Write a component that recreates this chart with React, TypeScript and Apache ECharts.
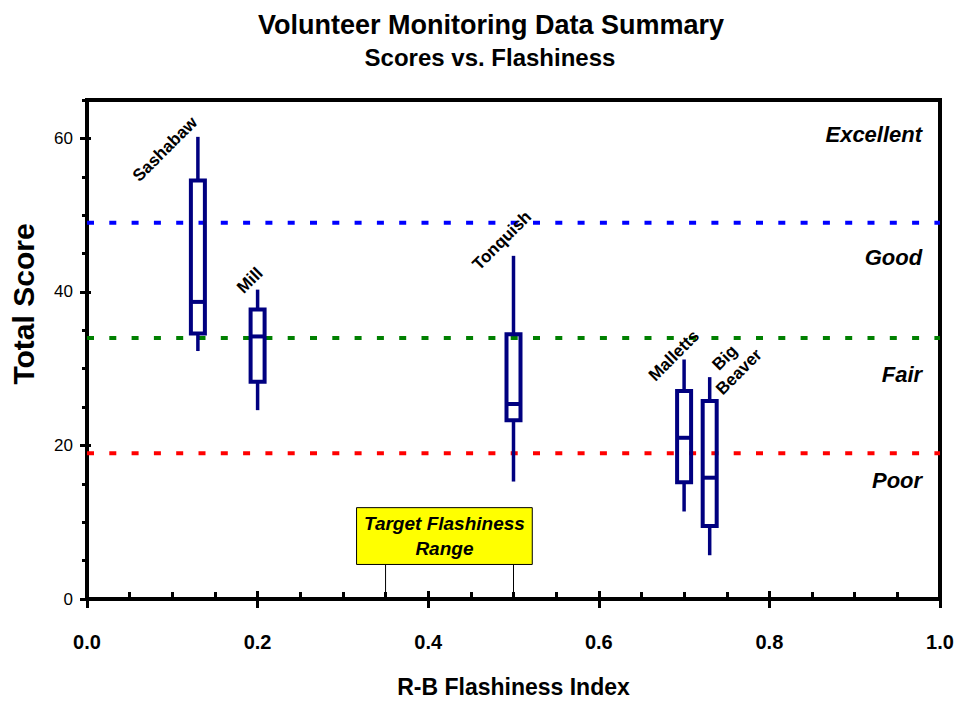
import React, { useEffect, useRef } from 'react';
import * as echarts from 'echarts';

// ---- data ----
const sites = ['Sashabaw', 'Mill', 'Tonquish', 'Malletts', 'Big\nBeaver'];
const flashiness = [0.13, 0.2, 0.5, 0.7, 0.73];
const whiskerLow = [32.3, 24.6, 15.3, 11.4, 5.7];
const q1 = [34.6, 28.3, 23.3, 15.2, 9.5];
const median = [38.7, 34.2, 25.4, 21.0, 15.8];
const q3 = [54.5, 37.7, 34.5, 27.1, 25.8];
const whiskerHigh = [60.2, 40.3, 44.7, 31.2, 28.9];
const labelX = [0.0914, 0.191, 0.4865, 0.688, 0.756];
const labelY = [58.6, 41.5, 46.7, 31.7, 30.5];

const thresholds = [49, 34, 19];
const thresholdColors = ['#0000ff', '#008000', '#ff0000'];

const ratingNames = ['Excellent', 'Good', 'Fair', 'Poor'];
const ratingX = 0.979;
const ratingY = [60.5, 44.5, 29.3, 15.4];

const targetRange = [0.35, 0.5];
const targetBoxX = [0.316, 0.522];
const targetBoxY = [4.5, 11.9];
const targetText = 'Target Flashiness\nRange';

const xMin = 0, xMax = 1, xMajor = 0.2, xMinor = 0.05;
const yMin = 0, yMax = 65, yMajor = 20, yMinor = 5;

const NAVY = '#000080';
const SANS = "'Liberation Sans', Arial, sans-serif";

export default function App() {
  const ref = useRef<HTMLDivElement>(null);
  useEffect(() => {
    if (!ref.current) return;
    const chart = echarts.init(ref.current, null, { renderer: 'svg' });

    const plainX = (extra: any) => ({
      type: 'value', min: xMin, max: xMax, position: 'bottom',
      axisLine: { show: false }, axisLabel: { show: false }, splitLine: { show: false },
      ...extra,
    });
    const plainY = (extra: any) => ({
      type: 'value', min: yMin, max: yMax, position: 'left',
      axisLine: { show: false }, axisLabel: { show: false }, splitLine: { show: false },
      ...extra,
    });

    const option: any = {
      animation: false,
      backgroundColor: '#fff',
      grid: { left: 87, right: 18, top: 100, bottom: 101, show: true, borderColor: '#000', borderWidth: 4, backgroundColor: 'transparent' },
      graphic: [
        { type: 'text', x: 491, y: 25, style: { text: 'Volunteer Monitoring Data Summary', fontSize: 27, fontWeight: 'bold', fontFamily: SANS, fill: '#000', align: 'center', verticalAlign: 'middle' } },
        { type: 'text', x: 490, y: 57, style: { text: 'Scores vs. Flashiness', fontSize: 24, fontWeight: 'bold', fontFamily: SANS, fill: '#000', align: 'center', verticalAlign: 'middle' } },
        { type: 'text', x: 23, y: 304, rotation: Math.PI / 2, style: { text: 'Total Score', fontSize: 30, fontWeight: 'bold', fontFamily: SANS, fill: '#000', align: 'center', verticalAlign: 'middle' } },
      ],
      xAxis: [
        {
          type: 'value', min: xMin, max: xMax, interval: xMajor, position: 'bottom',
          name: 'R-B Flashiness Index', nameLocation: 'middle', nameGap: 76,
          nameTextStyle: { fontSize: 23, fontWeight: 'bold', fontFamily: SANS, color: '#000' },
          axisLine: { show: true, onZero: false, lineStyle: { color: '#000', width: 3 } },
          axisTick: { show: true, inside: false, length: 9, lineStyle: { color: '#000', width: 3 } },
          axisLabel: { formatter: (v: number) => v.toFixed(1), margin: 33, fontSize: 20, fontWeight: 'bold', fontFamily: SANS, color: '#000' },
          splitLine: { show: false },
        },
        plainX({ interval: xMajor, axisTick: { show: true, inside: true, length: 8, lineStyle: { color: '#000', width: 3 } } }),
        plainX({ interval: xMinor, axisTick: { show: true, inside: true, length: 7, lineStyle: { color: '#000', width: 3 } } }),
      ],
      yAxis: [
        {
          type: 'value', min: yMin, max: yMax, interval: yMajor, position: 'left',
          axisLine: { show: true, onZero: false, lineStyle: { color: '#000', width: 3 } },
          axisTick: { show: true, inside: false, length: 7, lineStyle: { color: '#000', width: 3 } },
          axisLabel: { showMaxLabel: false, margin: 14, fontSize: 17, fontFamily: SANS, color: '#000' },
          splitLine: { show: false },
        },
        plainY({ interval: yMajor, axisTick: { show: true, inside: true, length: 4, lineStyle: { color: '#000', width: 3 } } }),
        plainY({ interval: yMinor, axisTick: { show: true, inside: false, length: 5, lineStyle: { color: '#000', width: 3 } } }),
      ],
      series: [
        ...thresholds.map((t, i) => ({
          type: 'line', xAxisIndex: 0, yAxisIndex: 0, silent: true, symbol: 'none', z: 2,
          data: [[xMin, t], [xMax, t]],
          lineStyle: { color: thresholdColors[i], width: 4, type: [7, 15.3], cap: 'butt' },
        })),
        {
          type: 'custom', xAxisIndex: 0, yAxisIndex: 0, silent: true, z: 5,
          data: flashiness.map((x, i) => [x, whiskerLow[i], q1[i], median[i], q3[i], whiskerHigh[i]]),
          renderItem: (params: any, api: any) => {
            const x = api.value(0);
            const lo = api.coord([x, api.value(1)]);
            const b1 = api.coord([x, api.value(2)]);
            const md = api.coord([x, api.value(3)]);
            const b3 = api.coord([x, api.value(4)]);
            const hi = api.coord([x, api.value(5)]);
            const hw = 7;
            return {
              type: 'group',
              children: [
                { type: 'line', shape: { x1: hi[0], y1: hi[1], x2: b3[0], y2: b3[1] }, style: { stroke: NAVY, lineWidth: 3.5 } },
                { type: 'line', shape: { x1: b1[0], y1: b1[1], x2: lo[0], y2: lo[1] }, style: { stroke: NAVY, lineWidth: 3.5 } },
                { type: 'rect', shape: { x: b3[0] - hw, y: b3[1], width: 2 * hw, height: b1[1] - b3[1] }, style: { fill: 'transparent', stroke: NAVY, lineWidth: 4 } },
                { type: 'line', shape: { x1: md[0] - hw, y1: md[1], x2: md[0] + hw, y2: md[1] }, style: { stroke: NAVY, lineWidth: 4 } },
              ],
            };
          },
        },
        {
          type: 'custom', xAxisIndex: 0, yAxisIndex: 0, silent: true, z: 6,
          data: sites.map((s, i) => [labelX[i], labelY[i]]),
          renderItem: (params: any, api: any) => {
            const p = api.coord([api.value(0), api.value(1)]);
            return {
              type: 'text', x: p[0], y: p[1], rotation: Math.PI / 4,
              style: { text: sites[params.dataIndex], fontSize: 17, fontWeight: 'bold', fontFamily: SANS, fill: '#000', align: 'center', verticalAlign: 'middle', lineHeight: 20 },
            };
          },
        },
        {
          type: 'custom', xAxisIndex: 0, yAxisIndex: 0, silent: true, z: 6,
          data: ratingNames.map((n, i) => [ratingX, ratingY[i]]),
          renderItem: (params: any, api: any) => {
            const p = api.coord([api.value(0), api.value(1)]);
            return {
              type: 'text', x: p[0], y: p[1],
              style: { text: ratingNames[params.dataIndex], fontSize: 22, fontWeight: 'bold', fontStyle: 'italic', fontFamily: SANS, fill: '#000', align: 'right', verticalAlign: 'middle' },
            };
          },
        },
        {
          type: 'custom', xAxisIndex: 0, yAxisIndex: 0, silent: true, z: 6,
          data: [[targetBoxX[0], targetBoxX[1], targetBoxY[0], targetBoxY[1], targetRange[0], targetRange[1]]],
          renderItem: (params: any, api: any) => {
            const tl = api.coord([api.value(0), api.value(3)]);
            const br = api.coord([api.value(1), api.value(2)]);
            const r0b = api.coord([api.value(4), 0]);
            const r1b = api.coord([api.value(5), 0]);
            return {
              type: 'group',
              children: [
                { type: 'line', shape: { x1: r0b[0], y1: r0b[1], x2: r0b[0], y2: br[1] }, style: { stroke: '#000', lineWidth: 1 } },
                { type: 'line', shape: { x1: r1b[0], y1: r1b[1], x2: r1b[0], y2: br[1] }, style: { stroke: '#000', lineWidth: 1 } },
                { type: 'rect', shape: { x: tl[0], y: tl[1], width: br[0] - tl[0], height: br[1] - tl[1] }, style: { fill: '#ffff00', stroke: '#000', lineWidth: 1 } },
                { type: 'text', x: (tl[0] + br[0]) / 2, y: (tl[1] + br[1]) / 2, style: { text: targetText, fontSize: 19, fontWeight: 'bold', fontStyle: 'italic', fontFamily: SANS, fill: '#000', align: 'center', verticalAlign: 'middle', lineHeight: 25 } },
              ],
            };
          },
        },
      ],
    };
    chart.setOption(option);
    return () => chart.dispose();
  }, []);
  return <div ref={ref} style={{ position: 'fixed', left: 0, top: 0, width: 958, height: 703, background: '#fff' }} />;
}
